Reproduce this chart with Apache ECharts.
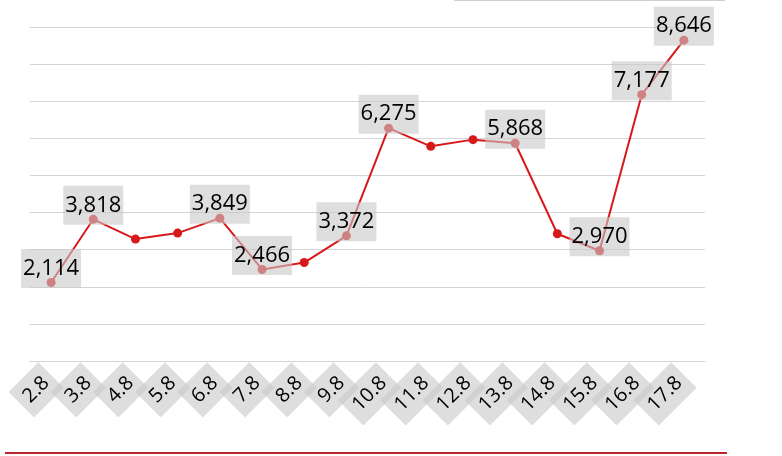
<!DOCTYPE html>
<html><head><meta charset="utf-8">
<script src="https://cdn.jsdelivr.net/npm/echarts@6/dist/echarts.min.js"></script>
<style>html,body{margin:0;padding:0;background:#fff}#c{width:782px;height:456px}</style>
</head><body><div id="c"></div>
<script>
const categories = ['2.8','3.8','4.8','5.8','6.8','7.8','8.8','9.8','10.8','11.8','12.8','13.8','14.8','15.8','16.8','17.8'];
const values = [2114, 3818, 3285, 3447, 3849, 2466, 2653, 3372, 6275, 5784, 5965, 5868, 3428, 2970, 7177, 8646];
const labelled = [true, true, false, false, true, true, false, true, true, false, false, true, false, true, true, true];
const yMin = 0, yMax = 9000, yStep = 1000;

const chart = echarts.init(document.getElementById('c'));
const FONT = '"Open Sans", "Noto Sans", sans-serif';
chart.setOption({
  animation: false,
  grid: { left: 30, right: 77, top: 27, bottom: 95, containLabel: false },
  xAxis: {
    type: 'category', data: categories, boundaryGap: true,
    axisLine: { show: true, lineStyle: { color: '#d4d4d4', width: 1 } },
    axisTick: { show: false },
    axisLabel: {
      interval: 0, rotate: 45, fontSize: 20, color: '#000', fontFamily: FONT,
      backgroundColor: 'rgba(200,200,200,0.6)', padding: [8, 7, 8, 7], margin: 14
    }
  },
  yAxis: {
    type: 'value', min: yMin, max: yMax, interval: yStep,
    axisLabel: { show: false }, axisLine: { show: false }, axisTick: { show: false },
    splitLine: { lineStyle: { color: '#d4d4d4', width: 1 } }
  },
  series: [{
    type: 'line',
    data: values.map((v, i) => ({ value: v, label: { show: labelled[i] } })),
    symbol: 'circle', symbolSize: 9,
    lineStyle: { color: '#d7191c', width: 2 },
    itemStyle: { color: '#d7191c' },
    label: {
      position: 'inside', offset: [0, -14],
      formatter: p => p.value.toLocaleString('en-US'),
      fontSize: 22, color: '#000', fontFamily: FONT,
      backgroundColor: 'rgba(200,200,200,0.6)', padding: [9, 2, 8, 2]
    }
  }],
  graphic: [
    { type: 'line', shape: { x1: 5, y1: 453, x2: 727, y2: 453 }, style: { stroke: '#b8252d', lineWidth: 2 } },
    { type: 'line', shape: { x1: 454, y1: 0.5, x2: 725, y2: 0.5 }, style: { stroke: '#cfcfcf', lineWidth: 1 } }
  ]
});
</script></body></html>
